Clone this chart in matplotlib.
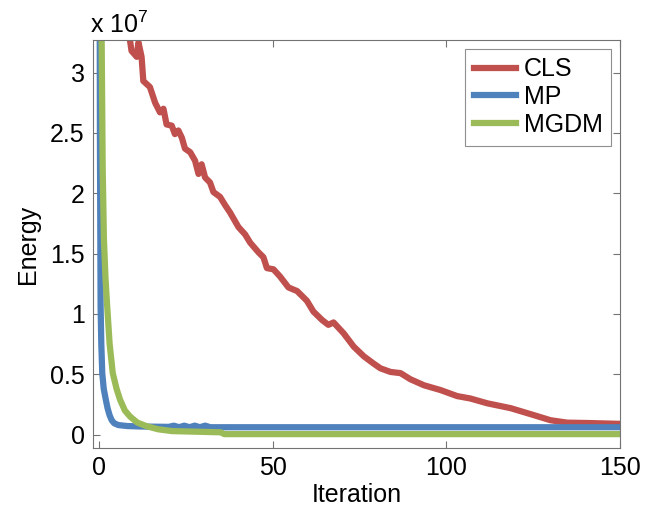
import matplotlib
matplotlib.use('Agg')
import matplotlib.pyplot as plt

plt.rcParams['font.family'] = ['Liberation Sans', 'DejaVu Sans']
plt.rcParams['mathtext.default'] = 'regular'

# energy values in units of 1e7
cls_iter = [0, 8.0, 8.9, 9.3, 10.8, 11.3, 12.2, 12.7, 14.6, 16.1, 17.5, 18.5, 19.4, 20.9,
            21.8, 22.8, 23.8, 24.7, 26.2, 27.6, 28.6, 29.5, 30.5, 31.9, 32.9, 34.8,
            36.3, 37.7, 38.7, 40.1, 42.0, 43.5, 45.9, 47.3, 48.3, 50.2, 52.1, 54.5,
            57.0, 59.8, 61.7, 64.2, 66.0, 67.5, 70.4, 73.3, 76.2, 79.0, 81.0, 83.9,
            86.8, 89.6, 93.5, 98.3, 103.1, 106.9, 111.8, 118.5, 124.3, 130.0, 134.8,
            140.6, 150]
cls_energy = [6.0, 3.40, 3.26, 3.18, 3.13, 3.25, 3.13, 2.93, 2.88, 2.75, 2.67, 2.70, 2.57, 2.56,
              2.49, 2.52, 2.46, 2.37, 2.34, 2.27, 2.16, 2.24, 2.13, 2.09, 2.01, 1.97,
              1.90, 1.84, 1.79, 1.72, 1.66, 1.59, 1.51, 1.47, 1.38, 1.37, 1.31, 1.22,
              1.19, 1.11, 1.02, 0.95, 0.91, 0.93, 0.84, 0.73, 0.65, 0.59, 0.55, 0.52,
              0.51, 0.46, 0.41, 0.37, 0.32, 0.30, 0.26, 0.22, 0.17, 0.12, 0.10,
              0.097, 0.09]

mp_iter = [0, 0.2, 0.4, 0.6, 0.87, 1.3, 1.9, 2.4, 3.0, 3.6, 4.3, 5.5, 8, 12, 20, 21.5,
           23, 24.5, 26, 27.5, 29, 30.5, 32, 33, 150]
mp_energy = [6.0, 2.5, 1.06, 0.75, 0.51, 0.38, 0.29, 0.22, 0.16, 0.12, 0.095, 0.08,
             0.072, 0.068, 0.065, 0.075, 0.062, 0.075, 0.062, 0.075, 0.062, 0.075,
             0.062, 0.062, 0.062]

mgdm_iter = [0, 0.7, 1.0, 1.35, 1.8, 2.3, 3.0, 3.9, 5.0, 6.0, 7.4, 8.9, 11, 13.7, 17,
             21, 35, 36, 150]
mgdm_energy = [6.0, 3.27, 2.2, 1.62, 1.3, 1.06, 0.75, 0.51, 0.38, 0.29, 0.2, 0.15,
               0.1, 0.07, 0.045, 0.03, 0.02, 0.005, 0.005]

fig = plt.figure(figsize=(6.58, 5.12), dpi=100)
ax = fig.add_axes([0.1413, 0.125, 0.8009, 0.797])

ax.plot(cls_iter, cls_energy, color='#c0504d', lw=4.5, label='CLS')
ax.plot(mp_iter, mp_energy, color='#4f81bd', lw=4.5, label='MP')
ax.plot(mgdm_iter, mgdm_energy, color='#9bbb59', lw=4.5, label='MGDM')

ax.set_xlim(-1.8, 150)
ax.set_ylim(-0.11, 3.27)
ax.set_xticks([0, 50, 100, 150])
ax.set_yticks([0, 0.5, 1, 1.5, 2, 2.5, 3])
ax.set_yticklabels(['0', '0.5', '1', '1.5', '2', '2.5', '3'])
ax.tick_params(direction='in', length=5, width=0.8, color='0.45', labelsize=18,
               top=True, right=True, pad=6)
for s in ax.spines.values():
    s.set_color('0.45')
    s.set_linewidth(0.8)

ax.set_xlabel('Iteration', fontsize=18, labelpad=2)
ax.set_ylabel('Energy', fontsize=18, labelpad=7)
ax.text(-0.005, 1.005, r'x 10$^{7}$', transform=ax.transAxes, fontsize=18,
        ha='left', va='bottom')

leg = ax.legend(loc='upper right', fontsize=18, handlelength=1.7, handletextpad=0.3,
                borderaxespad=0.35, labelspacing=0.15, borderpad=0.35, fancybox=False)
leg.get_frame().set_edgecolor('0.45')
leg.get_frame().set_linewidth(0.8)

fig.savefig('out.png', dpi=100)
